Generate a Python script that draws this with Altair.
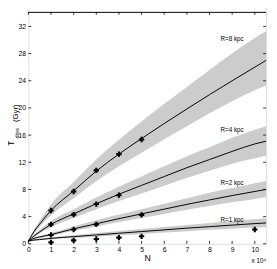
import altair as alt
import pandas as pd

# grid of N values (units of 1e4)
N = [0, 0.25, 0.5, 1, 2, 3, 4, 5, 6, 7, 8, 9, 10, 10.5]

series = ["R=8 kpc", "R=4 kpc", "R=2 kpc", "R=1 kpc"]

line_vals = {
    "R=8 kpc": [0.4, 1.8, 2.9, 4.9, 7.8, 10.7, 13.2, 15.5, 17.7, 19.85, 21.95, 24.0, 26.0, 27.0],
    "R=4 kpc": [0.4, 1.15, 1.75, 2.85, 4.4, 5.9, 7.3, 8.6, 9.9, 11.2, 12.4, 13.6, 14.7, 15.1],
    "R=2 kpc": [0.4, 0.8, 1.0, 1.35, 2.2, 2.95, 3.7, 4.4, 5.1, 5.8, 6.45, 7.1, 7.7, 8.0],
    "R=1 kpc": [0.4, 0.55, 0.62, 0.8, 1.05, 1.3, 1.55, 1.8, 2.05, 2.3, 2.52, 2.75, 2.97, 3.07],
}
upper_vals = {
    "R=8 kpc": [0.4, 2.1, 3.4, 5.8, 9.1, 12.4, 15.3, 18.0, 20.6, 23.1, 25.6, 28.0, 30.3, 31.3],
    "R=4 kpc": [0.4, 1.35, 2.05, 3.35, 5.1, 6.8, 8.4, 9.9, 11.4, 12.9, 14.2, 15.6, 16.8, 17.3],
    "R=2 kpc": [0.4, 0.9, 1.15, 1.6, 2.55, 3.45, 4.3, 5.1, 5.9, 6.7, 7.5, 8.2, 8.9, 9.25],
    "R=1 kpc": [0.4, 0.65, 0.73, 0.95, 1.27, 1.58, 1.88, 2.18, 2.48, 2.78, 3.07, 3.35, 3.6, 3.74],
}
lower_vals = {
    "R=8 kpc": [0.4, 1.5, 2.5, 4.2, 6.7, 9.2, 11.4, 13.4, 15.4, 17.3, 19.2, 21.0, 22.6, 23.3],
    "R=4 kpc": [0.4, 0.95, 1.5, 2.45, 3.8, 5.1, 6.3, 7.4, 8.55, 9.7, 10.75, 11.8, 12.6, 12.95],
    "R=2 kpc": [0.4, 0.7, 0.85, 1.15, 1.9, 2.55, 3.2, 3.8, 4.4, 5.0, 5.55, 6.1, 6.6, 6.85],
    "R=1 kpc": [0.4, 0.47, 0.52, 0.66, 0.85, 1.05, 1.25, 1.45, 1.65, 1.85, 2.05, 2.23, 2.38, 2.45],
}

# simulation points
pt_N = [1, 2, 3, 4, 5,   1, 2, 3, 4,   1, 2, 3, 5,   1, 2, 3, 4, 5, 10]
pt_T = [4.9, 7.7, 10.8, 13.2, 15.35,   2.85, 4.3, 5.85, 7.15,   1.3, 2.1, 2.85, 4.25,
        0.2, 0.5, 0.7, 0.9, 1.1, 2.1]

# curve labels
lab_text = ["R=8 kpc", "R=4 kpc", "R=2 kpc", "R=1 kpc"]
lab_N = [9.0, 9.0, 9.0, 9.0]
lab_T = [30.2, 16.7, 8.9, 3.45]

x_ticks = list(range(0, 11))
y_ticks = list(range(0, 33, 4))

rows = []
for s in series:
    for n, l, u, lo in zip(N, line_vals[s], upper_vals[s], lower_vals[s]):
        rows.append({"series": s, "N": n, "T": l, "hi": u, "lo": lo})
curves = pd.DataFrame(rows)
pts = pd.DataFrame({"N": pt_N, "T": pt_T})
labs = pd.DataFrame({"N": lab_N, "T": lab_T, "text": lab_text})
xt = pd.DataFrame({"v": x_ticks})
yt = pd.DataFrame({"v": y_ticks})

FONT = "Liberation Sans"
W, H = 245, 245

xs = alt.Scale(domain=[0, 10.5], nice=False, zero=False)
ys = alt.Scale(domain=[0, 35], nice=False, zero=False)

x_axis = alt.Axis(values=x_ticks, ticks=False, domain=False, grid=False,
                  labelFont=FONT, labelFontSize=7, labelPadding=2,
                  labelColor="black", title="N", titleFont=FONT,
                  titleFontSize=9, titleFontWeight="normal",
                  titleColor="black", titlePadding=1, labelFlush=False,
                  labelOverlap=False)
y_axis = alt.Axis(values=y_ticks, ticks=False, domain=False, grid=False,
                  labelFont=FONT, labelFontSize=7, labelPadding=3,
                  labelColor="black", title=None, labelFlush=False,
                  labelOverlap=False)

band = alt.Chart(curves).mark_area(color="#cccccc", opacity=1, interpolate="monotone").encode(
    x=alt.X("N:Q", scale=xs, axis=x_axis),
    y=alt.Y("hi:Q", scale=ys, axis=y_axis),
    y2="lo:Q", detail="series:N")
lines = alt.Chart(curves).mark_line(color="black", strokeWidth=1, interpolate="monotone").encode(
    x=alt.X("N:Q", scale=xs, axis=x_axis), y=alt.Y("T:Q", scale=ys, axis=y_axis), detail="series:N")
points = alt.Chart(pts).mark_point(shape="cross", filled=True, color="black", size=30, opacity=1).encode(
    x=alt.X("N:Q", scale=xs, axis=x_axis), y=alt.Y("T:Q", scale=ys, axis=y_axis))
labels = alt.Chart(labs).mark_text(font=FONT, fontSize=6.5, color="black", align="center",
                                   baseline="middle").encode(
    x=alt.X("N:Q", scale=xs, axis=x_axis), y=alt.Y("T:Q", scale=ys, axis=y_axis), text="text:N")

xtick_b = alt.Chart(xt).mark_rule(color="black", strokeWidth=0.8).encode(
    x=alt.X("v:Q", scale=xs, axis=x_axis), y=alt.value(H), y2=alt.value(H - 3))
xtick_t = alt.Chart(xt).mark_rule(color="black", strokeWidth=0.8).encode(
    x=alt.X("v:Q", scale=xs, axis=x_axis), y=alt.value(6), y2=alt.value(9))
ytick_l = alt.Chart(yt).mark_rule(color="black", strokeWidth=0.8).encode(
    y=alt.Y("v:Q", scale=ys, axis=y_axis), x=alt.value(0), x2=alt.value(3))
ytick_r = alt.Chart(yt).mark_rule(color="black", strokeWidth=0.8).encode(
    y=alt.Y("v:Q", scale=ys, axis=y_axis), x=alt.value(W), x2=alt.value(W - 3))
top_edge = alt.Chart(pd.DataFrame({"v": [0]})).mark_rule(color="black", strokeWidth=1).encode(
    x=alt.value(0), x2=alt.value(W), y=alt.value(6.5))

tt = alt.Chart(pd.DataFrame({"t": ["T"]})).mark_text(font=FONT, fontSize=8.5, angle=270, align="left",
                                                     baseline="alphabetic", color="black").encode(
    x=alt.value(-14.5), y=alt.value(144), text="t:N")
td = alt.Chart(pd.DataFrame({"t": ["diss"]})).mark_text(font=FONT, fontSize=6, angle=270, align="left",
                                                        baseline="alphabetic", color="black").encode(
    x=alt.value(-10), y=alt.value(136.5), text="t:N")
tg = alt.Chart(pd.DataFrame({"t": ["(Gyr)"]})).mark_text(font=FONT, fontSize=8, angle=270, align="left",
                                                         baseline="alphabetic", color="black").encode(
    x=alt.value(-11), y=alt.value(119.5), text="t:N")
mult = alt.Chart(pd.DataFrame({"t": ["x 10\u2074"]})).mark_text(font=FONT, fontSize=6.5, align="right",
                                                             baseline="middle", color="black").encode(
    x=alt.value(W), y=alt.value(263), text="t:N")

chart = alt.layer(band, lines, points, labels, xtick_b, xtick_t, ytick_l, ytick_r, top_edge,
                  tt, td, tg, mult).properties(
    width=W, height=H,
    autosize=alt.AutoSizeParams(type="none"),
    padding={"left": 21, "top": -6, "right": 3, "bottom": 22},
).configure_view(stroke="black", strokeWidth=1).configure_axis(
    labelOverlap=False, labelFont=FONT, labelFontSize=7, labelColor="black"
).configure(background="white")

chart.save("out.html", embed_options={"renderer": "svg", "actions": False})
